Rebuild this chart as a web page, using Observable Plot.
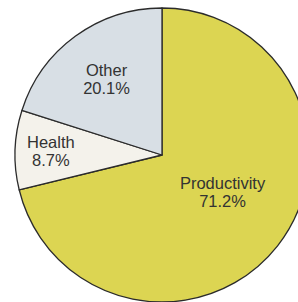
<!DOCTYPE html>
<html>
<head>
<meta charset="utf-8">
<script src="https://cdn.jsdelivr.net/npm/d3@7"></script>
<script src="https://cdn.jsdelivr.net/npm/@observablehq/plot@0.6"></script>
<style>
  html, body { margin: 0; padding: 0; background: #fff; }
</style>
</head>
<body>
<div id="chart"></div>
<script>
const categories = ["Productivity", "Health", "Other"];
const values = [71.2, 8.7, 20.1];
const labels = ["Productivity\n71.2%", "Health\n8.7%", "Other\n20.1%"];
const colors = ["#dcd552", "#f4f2eb", "#d8dfe5"];

const data = categories.map((c, i) => ({category: c, value: values[i], label: labels[i]}));

// Productivity clockwise from 12 o'clock; Other + Health fill the rest.
const pie = d3.pie().sort(null).value(d => d.value).startAngle(0).endAngle(2 * Math.PI);
const arcs = pie(data);

const labelRadius = {Productivity: 0.48, Health: 0.76, Other: 0.645};
const labelNudge = {Productivity: -6.5, Health: 0, Other: 0}; // degrees
const labelData = arcs.map(a => {
  const mid = (a.startAngle + a.endAngle) / 2 + labelNudge[a.data.category] * Math.PI / 180;
  const r = labelRadius[a.data.category];
  return {label: a.data.label, x: r * Math.sin(mid), y: r * Math.cos(mid)};
});

const cx = 162, cy = 155, R = 147;

function pieMark(index, scales) {
  const g = d3.create("svg:g");
  const ox = scales.x(0), oy = scales.y(0);
  const rad = scales.x(1) - scales.x(0);
  const arc = d3.arc().innerRadius(0).outerRadius(rad);
  const color = d3.scaleOrdinal(categories, colors);
  g.selectAll("path")
    .data(arcs)
    .join("path")
    .attr("transform", `translate(${ox},${oy})`)
    .attr("d", arc)
    .attr("fill", d => color(d.data.category))
    .attr("stroke", "#2b2b2b")
    .attr("stroke-width", 1.3)
    .attr("stroke-linejoin", "round");
  return g.node();
}

const chart = Plot.plot({
  width: 298,
  height: 302,
  margin: 0,
  x: {domain: [-1, 1], range: [cx - R, cx + R], axis: null},
  y: {domain: [-1, 1], range: [cy + R, cy - R], axis: null},
  style: {background: "#fff", fontFamily: "'Liberation Sans', Arial, sans-serif", overflow: "hidden"},
  marks: [
    pieMark,
    Plot.text(labelData, {
      x: "x", y: "y", text: "label",
      fontSize: 16.5, lineHeight: 1.08, fill: "#333", textAnchor: "middle"
    })
  ]
});

document.getElementById("chart").appendChild(chart);
</script>
</body>
</html>
